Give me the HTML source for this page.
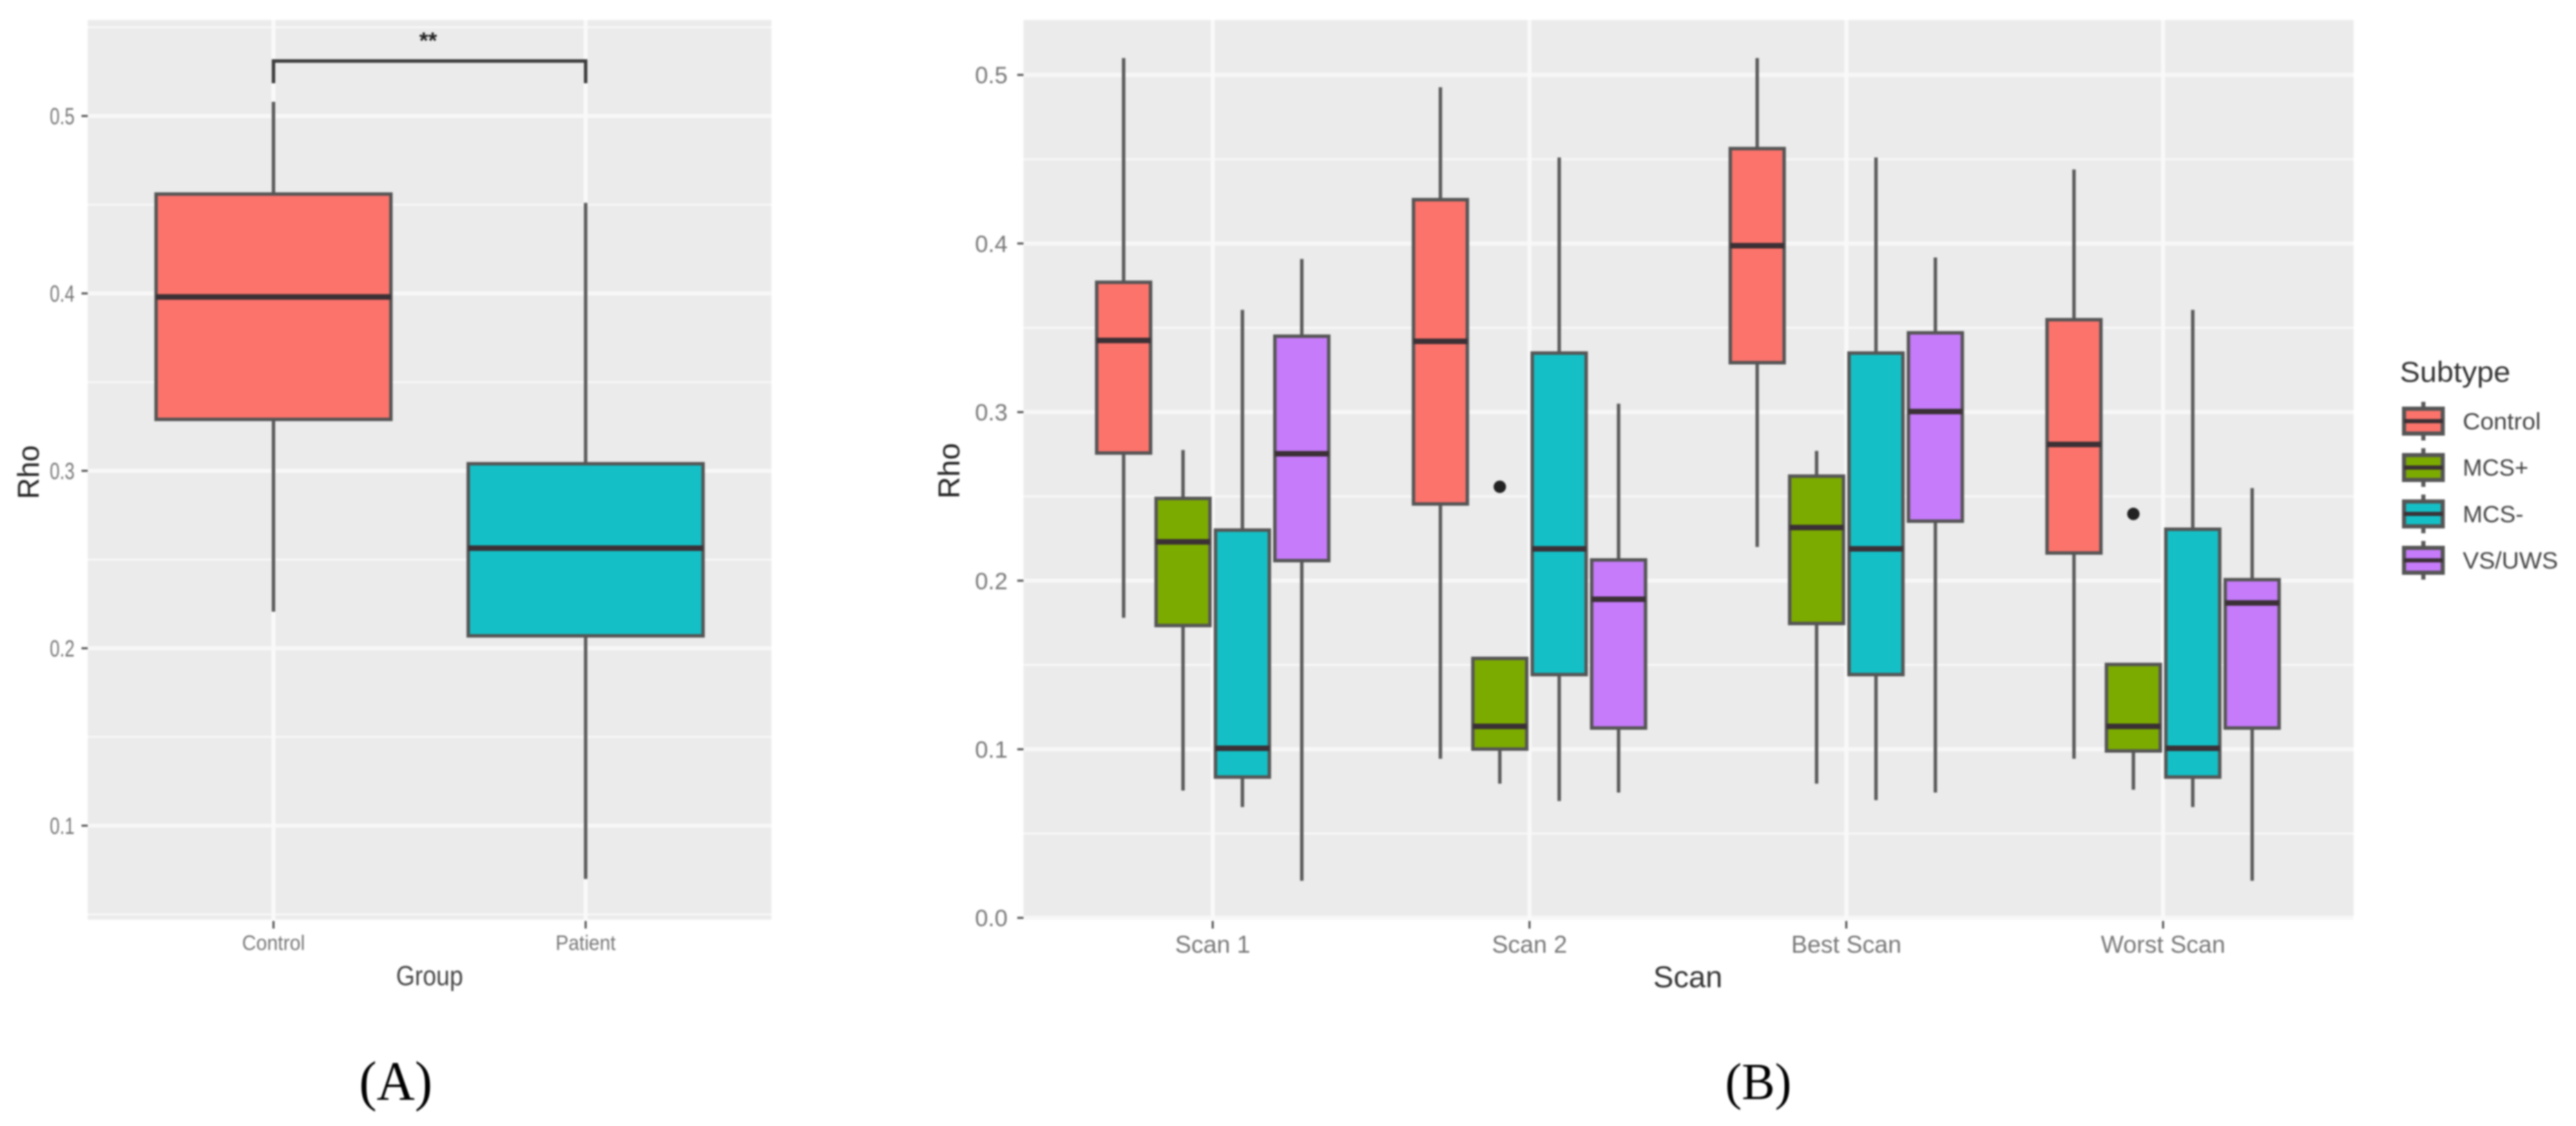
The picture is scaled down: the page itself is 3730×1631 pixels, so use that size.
<!DOCTYPE html>
<html lang="en">
<head>
<meta charset="utf-8">
<title>Rho boxplots by group and scan</title>
<style>
  html, body { margin: 0; padding: 0; background: #fff; }
  body { width: 3730px; height: 1631px; overflow: hidden; }
  svg { display: block; filter: blur(1.3px); }
  text { font-family: "Liberation Sans", sans-serif; }
  .serif { font-family: "Liberation Serif", serif; fill: #000; }
</style>
</head>
<body>
<svg id="figure" xmlns="http://www.w3.org/2000/svg" width="3730" height="1631" viewBox="0 0 3730 1631">
  <rect x="0" y="0" width="3730" height="1631" fill="#ffffff"/>

  <g id="panelA"></g>
  <g id="panelB"></g>

  <text transform="translate(56 684) rotate(-90)" text-anchor="middle" font-size="44" fill="#222" textLength="78" lengthAdjust="spacingAndGlyphs">Rho</text>
  <text x="622" y="1427" text-anchor="middle" font-size="40" fill="#444" textLength="97" lengthAdjust="spacingAndGlyphs">Group</text>
  <text x="620" y="70" text-anchor="middle" font-size="33" font-weight="bold" fill="#222">**</text>

  <text transform="translate(1389 682) rotate(-90)" text-anchor="middle" font-size="44" fill="#222">Rho</text>
  <text x="2444" y="1430" text-anchor="middle" font-size="44" fill="#333">Scan</text>

  <text class="serif" x="573" y="1593" text-anchor="middle" font-size="80" textLength="106" lengthAdjust="spacingAndGlyphs">(A)</text>
  <text class="serif" x="2546" y="1592" text-anchor="middle" font-size="75" textLength="96" lengthAdjust="spacingAndGlyphs">(B)</text>

  <g id="legend">
    <text x="3475" y="553" font-size="42" fill="#333" textLength="160" lengthAdjust="spacingAndGlyphs">Subtype</text>
  </g>
</svg>

<script>
// ---------- Panel A data ----------
const groupCategories = ['Control', 'Patient'];
const groupHigh = [0.508, 0.451];
const groupQ3 = [0.456, 0.304];
const groupMedian = [0.398, 0.2564];
const groupQ1 = [0.329, 0.207];
const groupLow = [0.2206, 0.07];
const groupColors = ['#FC736B', '#14C0C6'];
const groupTickLabels = ['0.1', '0.2', '0.3', '0.4', '0.5'];
const groupTickValues = [0.1, 0.2, 0.3, 0.4, 0.5];
const groupMinorValues = [0.05, 0.15, 0.25, 0.35, 0.45, 0.55];
const bracketValue = 0.531;
const bracketEndValue = 0.5185;

// ---------- Panel B data (rows: subtype; columns: scan) ----------
const scanCategories = ['Scan 1', 'Scan 2', 'Best Scan', 'Worst Scan'];
const subtypes = ['Control', 'MCS+', 'MCS-', 'VS/UWS'];
const subtypeColors = ['#FC736B', '#7CAB00', '#14C0C6', '#C67BFB'];
const scanHigh = [
  [0.510, 0.4927, 0.510, 0.4439],
  [0.2775, 0.1539, 0.277, 0.1503],
  [0.3606, 0.451, 0.451, 0.3606],
  [0.3908, 0.305, 0.3917, 0.2549]
];
const scanQ3 = [
  [0.377, 0.426, 0.4563, 0.3548],
  [0.2488, 0.1539, 0.262, 0.1503],
  [0.230, 0.335, 0.335, 0.2305],
  [0.345, 0.2123, 0.347, 0.2006]
];
const scanMedian = [
  [0.3425, 0.342, 0.3987, 0.2808],
  [0.223, 0.1136, 0.2315, 0.1136],
  [0.1006, 0.2189, 0.2189, 0.1006],
  [0.2753, 0.189, 0.3003, 0.1868]
];
const scanQ1 = [
  [0.2757, 0.2455, 0.3293, 0.2164],
  [0.1734, 0.1001, 0.1746, 0.099],
  [0.0835, 0.1443, 0.1443, 0.0835],
  [0.2119, 0.1126, 0.2353, 0.1126]
];
const scanLow = [
  [0.178, 0.0944, 0.220, 0.0944],
  [0.0755, 0.0796, 0.0796, 0.076],
  [0.0657, 0.0693, 0.0698, 0.0657],
  [0.022, 0.0743, 0.0743, 0.022]
];
const outlierScan = [1, 3];
const outlierSubtype = [1, 1];
const outlierValue = [0.2557, 0.2396];
const scanTickLabels = ['0.0', '0.1', '0.2', '0.3', '0.4', '0.5'];
const scanTickValues = [0, 0.1, 0.2, 0.3, 0.4, 0.5];
const scanMinorValues = [0.05, 0.15, 0.25, 0.35, 0.45];

// ---------- Axis functions ----------
const yA = v => 168 + (0.5 - v) * 2570;
const xA = i => 396 + i * 452;
const yB = v => 1329.5 - v * 2442;
const xB = i => 1756 + i * 458.7;
const dodgeB = s => (s - 1.5) * 86;

const NS = 'http://www.w3.org/2000/svg';
function add(parent, tag, attrs, text) {
  const node = document.createElementNS(NS, tag);
  for (const k in attrs) node.setAttribute(k, attrs[k]);
  if (text !== undefined) node.textContent = text;
  parent.appendChild(node);
  return node;
}

function drawPanelFrame(parent, left, top, right, bottom) {
  const el = add(parent, 'rect', { x: left, y: top, width: right - left, height: bottom - top, fill: '#EBEBEB' });
  
  
}

function drawHLine(parent, y, left, right, width) {
  const el = add(parent, 'line', { x1: left, x2: right, y1: y, y2: y, stroke: '#F7F7F7', 'stroke-width': width });
  
  
}

function drawVLine(parent, x, top, bottom) {
  const el = add(parent, 'line', { x1: x, x2: x, y1: top, y2: bottom, stroke: '#F9F9F9', 'stroke-width': 6 });
  
  
}

function drawYTick(parent, y, panelLeft, label, labelX, fontSize, textWidth) {
  const tick = add(parent, 'line', { x1: panelLeft - 9, x2: panelLeft, y1: y, y2: y, stroke: '#555', 'stroke-width': 3 });
  
  
  const attrs = { x: labelX, y: y + fontSize * 0.36, 'text-anchor': 'end', 'font-size': fontSize, fill: '#777' };
  if (textWidth) { attrs.textLength = textWidth; attrs.lengthAdjust = 'spacingAndGlyphs'; }
  const txt = add(parent, 'text', attrs, label);
  
  
}

function drawXTick(parent, x, panelBottom, label, fontSize, textWidth, baseline) {
  const tick = add(parent, 'line', { x1: x, x2: x, y1: panelBottom + 2, y2: panelBottom + 13, stroke: '#555', 'stroke-width': 3 });
  
  
  const attrs = { x: x, y: baseline, 'text-anchor': 'middle', 'font-size': fontSize, fill: '#777' };
  if (textWidth) { attrs.textLength = textWidth; attrs.lengthAdjust = 'spacingAndGlyphs'; }
  const txt = add(parent, 'text', attrs, label);
  
  
}

function drawBox(parent, cx, halfWidth, yHigh, yQ3, yMed, yQ1, yLow, color, name, lineW, medW) {
  const g = add(parent, 'g', {});
  
  

  const up = add(g, 'line', { x1: cx, x2: cx, y1: yHigh, y2: yQ3, stroke: '#5a5a5a', 'stroke-width': lineW });
  
  

  const down = add(g, 'line', { x1: cx, x2: cx, y1: yQ1, y2: yLow, stroke: '#5a5a5a', 'stroke-width': lineW });
  
  

  const box = add(g, 'rect', { x: cx - halfWidth, y: yQ3, width: halfWidth * 2, height: yQ1 - yQ3, fill: color, stroke: '#555', 'stroke-width': lineW });
  
  

  const med = add(g, 'line', { x1: cx - halfWidth, x2: cx + halfWidth, y1: yMed, y2: yMed, stroke: '#3a3035', 'stroke-width': medW });
  
  
}

// ---------- Panel A ----------
const panelA = document.getElementById('panelA');
const aL = 127, aR = 1117, aT = 29, aB = 1332;
drawPanelFrame(panelA, aL, aT, aR, aB);
groupMinorValues.forEach(v => drawHLine(panelA, yA(v), aL, aR, 3));
groupTickValues.forEach(v => drawHLine(panelA, yA(v), aL, aR, 6));
groupCategories.forEach((c, i) => drawVLine(panelA, xA(i), aT, aB));
groupTickValues.forEach((v, i) => drawYTick(panelA, yA(v), aL, groupTickLabels[i], 108, 34, 36));
groupCategories.forEach((c, i) => drawXTick(panelA, xA(i), aB, c, 31, i === 0 ? 91 : 87, 1376));
groupCategories.forEach((c, i) => {
  drawBox(panelA, xA(i), 170, yA(groupHigh[i]), yA(groupQ3[i]), yA(groupMedian[i]), yA(groupQ1[i]), yA(groupLow[i]),
    groupColors[i], 'box-' + c.toLowerCase(), 5, 8);
});
const bracket = add(panelA, 'path', {
  d: 'M' + xA(0) + ' ' + yA(bracketEndValue) + 'V' + yA(bracketValue) + 'H' + xA(1) + 'V' + yA(bracketEndValue),
  fill: 'none', stroke: '#3c3c3c', 'stroke-width': 5
});



// ---------- Panel B ----------
const panelB = document.getElementById('panelB');
const bL = 1482, bR = 3408, bT = 29, bB = 1332;
drawPanelFrame(panelB, bL, bT, bR, bB);
scanMinorValues.forEach(v => drawHLine(panelB, yB(v), bL, bR, 3));
scanTickValues.forEach(v => drawHLine(panelB, yB(v), bL, bR, 6));
scanCategories.forEach((c, i) => drawVLine(panelB, xB(i), bT, bB));
scanTickValues.forEach((v, i) => drawYTick(panelB, yB(v), bL, scanTickLabels[i], 1459, 34));
scanCategories.forEach((c, i) => drawXTick(panelB, xB(i), bB, c, 35, null, 1380));
scanCategories.forEach((c, i) => {
  subtypes.forEach((s, j) => {
    drawBox(panelB, xB(i) + dodgeB(j), 39, yB(scanHigh[j][i]), yB(scanQ3[j][i]), yB(scanMedian[j][i]), yB(scanQ1[j][i]), yB(scanLow[j][i]),
      subtypeColors[j], 'box-' + c.toLowerCase().replace(' ', '-') + '-' + s.toLowerCase().replace('/', '-').replace('+', '-plus').replace(/-$/, '-minus'), 5, 8);
  });
});
outlierValue.forEach((v, k) => {
  const el = add(panelB, 'circle', { cx: xB(outlierScan[k]) + dodgeB(outlierSubtype[k]), cy: yB(v), r: 9, fill: '#222' });
  
  
});

// ---------- Legend ----------
const legend = document.getElementById('legend');
const legendKeyX = 3509;
const legendStart = 610, legendStep = 67.2;
const legendWidths = [113, 95, 88, 138];
subtypes.forEach((s, j) => {
  const cy = legendStart + j * legendStep;
  drawBox(legend, legendKeyX, 28, cy - 28, cy - 18, cy, cy + 18, cy + 28, subtypeColors[j], 'legend-key', 6, 6);
  const label = add(legend, 'text', { x: 3566, y: cy + 12, 'font-size': 34, fill: '#444', textLength: legendWidths[j], lengthAdjust: 'spacingAndGlyphs' }, s);
  
  
});
</script>
</body>
</html>
